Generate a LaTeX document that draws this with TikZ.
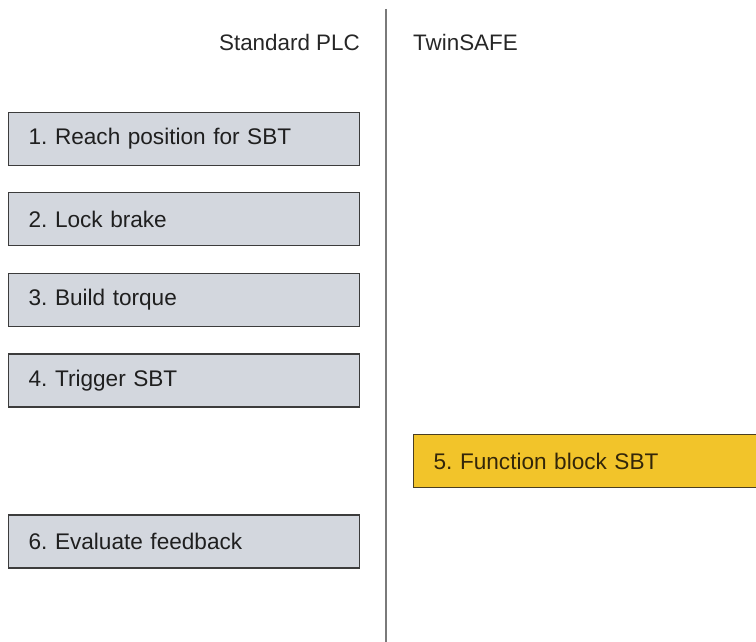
\documentclass[tikz,border=0pt]{standalone}
\usepackage{fontspec}
\setmainfont{Liberation Sans}
\usepackage{tikz}
\frenchspacing

\definecolor{boxgray}{HTML}{D3D7DE}
\definecolor{boxline}{HTML}{3C3C3C}
\definecolor{safeyellow}{HTML}{F2C42A}
\definecolor{safeline}{HTML}{4A3E22}
\definecolor{safetext}{HTML}{33260A}
\definecolor{divgray}{HTML}{7A7A7A}

\tikzset{
	graybox/.style={draw=boxline, line width=1.3pt, fill=boxgray, anchor=west,
		minimum height=53pt, text width=311pt, inner xsep=20pt, align=left,
		text=black!88, font=\fontsize{22.6}{26}\selectfont},
	safebox/.style={graybox, draw=safeline, fill=safeyellow, text=safetext, text width=303pt},
	header/.style={font=\fontsize{22.4}{26}\selectfont, text=black!85, inner sep=0pt}
}

\begin{document}
\begin{tikzpicture}[x=1pt,y=-1pt]
		\useasboundingbox (0,0) rectangle (756,642);
		% columns
		\coordinate (divtop) at (386,9);
		\coordinate (divbot) at (386,642);
		\draw[divgray, line width=1.5pt] (divtop) -- (divbot);
		\node[header, anchor=east] (plc) at (360,42) {Standard PLC};
		\node[header, anchor=west] (safe) at (413,42) {TwinSAFE};
		
		% standard PLC steps
		\foreach \n/\y/\txt in {1/139/{1. Reach position for SBT}, 2/219/{2. Lock brake},
			3/300/{3. Build torque}, 4/380.5/{4. Trigger SBT}, 6/541.5/{6. Evaluate feedback}}
			\node[graybox] (task\n) at (8,\y) {\txt};
		
		% TwinSAFE step
		\node[safebox] (task5) at (413,461) {5. Function block SBT};
	\end{tikzpicture}
\end{document}
